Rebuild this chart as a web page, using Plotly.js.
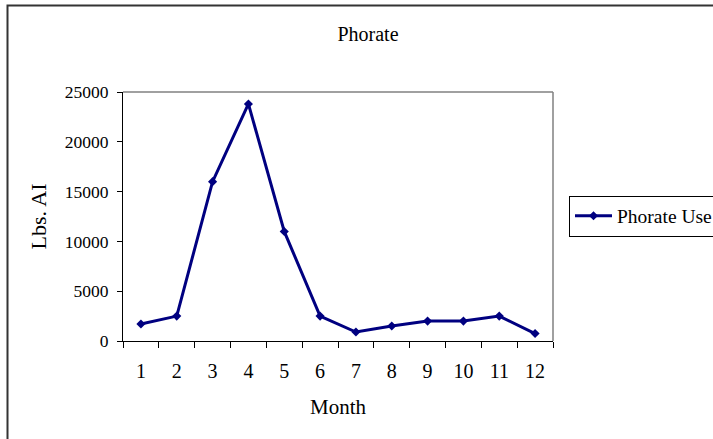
<!DOCTYPE html>
<html>
<head>
<meta charset="utf-8">
<script src="https://cdn.plot.ly/plotly-3.0.1.min.js"></script>
<style>html,body{margin:0;padding:0;background:#fff;overflow:hidden;}#chart{width:780px;height:439px;}</style>
</head>
<body>
<div id="chart"></div>
<script>
const months = ["1","2","3","4","5","6","7","8","9","10","11","12"];
const phorateUse = [1700, 2500, 16000, 23800, 11000, 2500, 900, 1500, 2000, 2000, 2500, 750];
const yTicks = [0, 5000, 10000, 15000, 20000, 25000];
const seriesName = "Phorate Use";
const chartTitle = "Phorate";
const xTitle = "Month";
const yTitle = "Lbs. AI";

const font = "Liberation Serif, Times New Roman, serif";
// paper is wider than the 713px window so the legend box runs off the right edge as in the reference
const L = 123, R = 553, T = 92, B = 341, W = 780, H = 439;
const px2x = p => (p - L) / (R - L);
const px2y = p => (B - p) / (B - T);

const trace = {
  x: months, y: phorateUse, name: seriesName, type: "scatter", mode: "lines+markers",
  line: {color: "#000080", width: 3},
  marker: {symbol: "diamond", size: 7, color: "#000080"}
};

const layout = {
  width: W, height: H,
  margin: {l: L, r: W - R, t: T, b: H - B, autoexpand: false},
  paper_bgcolor: "#fff", plot_bgcolor: "#fff",
  font: {family: font, color: "#000", size: 18},
  title: {text: chartTitle, font: {family: font, size: 20, color: "#000"},
          xref: "container", yref: "container", x: 368 / W, y: 1 - 34 / H, xanchor: "center", yanchor: "middle"},
  showlegend: true,
  legend: {x: px2x(569), y: px2y(216), xanchor: "left", yanchor: "middle", itemwidth: 37,
           bordercolor: "#000", borderwidth: 1, bgcolor: "#fff",
           font: {family: font, size: 19.5, color: "#000"}},
  xaxis: {type: "category", range: [-0.5, 11.5], tickson: "boundaries", ticks: "outside", ticklen: 6, tickcolor: "#000",
          showline: true, linecolor: "#000", linewidth: 1, showgrid: false, zeroline: false,
          tickfont: {family: font, size: 20}, ticklabelstandoff: 12,
          title: {text: xTitle, font: {family: font, size: 21}, standoff: 18}, automargin: false},
  yaxis: {range: [0, 25000], tickvals: yTicks, ticktext: yTicks.map(String), ticks: "outside", ticklen: 5, tickcolor: "#000",
          showline: true, linecolor: "#000", linewidth: 1, showgrid: false, zeroline: false,
          tickfont: {family: font, size: 17.5}, ticklabelstandoff: 5,
          title: {text: yTitle, font: {family: font, size: 22}, standoff: 12}, automargin: false},
  shapes: [
    {type: "line", xref: "paper", yref: "paper", x0: 0, x1: 1, y0: 1, y1: 1, line: {color: "#808080", width: 1.5}},
    {type: "line", xref: "paper", yref: "paper", x0: 1, x1: 1, y0: 0, y1: 1, line: {color: "#808080", width: 1.5}},
    {type: "rect", xref: "paper", yref: "paper", x0: px2x(7.5), x1: px2x(820), y0: px2y(480), y1: px2y(5.5),
     line: {color: "#333", width: 2}, fillcolor: "rgba(0,0,0,0)", layer: "below"}
  ]
};

Plotly.newPlot("chart", [trace], layout, {displayModeBar: false, staticPlot: true});
</script>
</body>
</html>
